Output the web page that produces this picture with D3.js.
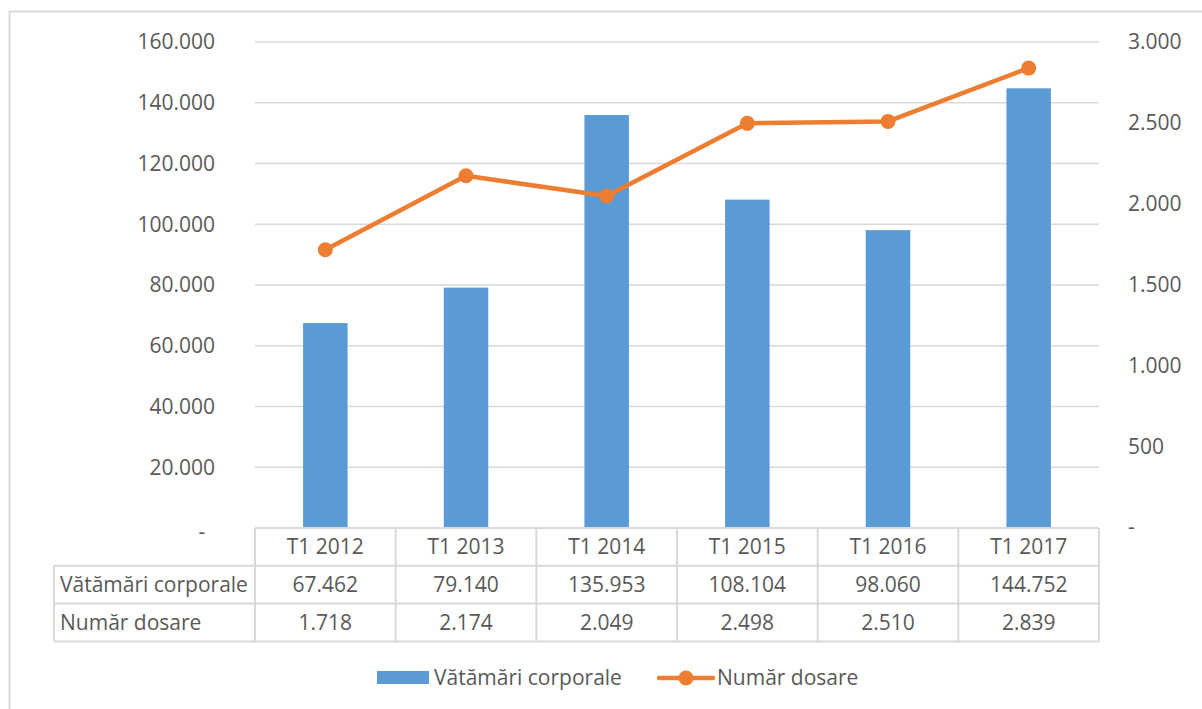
<!DOCTYPE html>
<html>
<head>
<meta charset="utf-8">
<script src="https://cdn.jsdelivr.net/npm/d3@7"></script>
<style>
  body { margin: 0; background: #fff; }
  text { font-family: "Open Sans", sans-serif; fill: #595959; }
</style>
</head>
<body>
<svg id="chart" width="1202" height="709"></svg>
<script>
var categories = ["T1 2012", "T1 2013", "T1 2014", "T1 2015", "T1 2016", "T1 2017"];
var vatamari = [67462, 79140, 135953, 108104, 98060, 144752];
var dosare = [1718, 2174, 2049, 2498, 2510, 2839];
var leftTicks = [0, 20000, 40000, 60000, 80000, 100000, 120000, 140000, 160000];
var rightTicks = [0, 500, 1000, 1500, 2000, 2500, 3000];
var seriesNames = ["Vătămări corporale", "Număr dosare"];

var margin = { top: 42, left: 255, right: 1099, bottom: 528 },
    rowH = 37.8,
    labelX = 54,
    fontSize = 21;

var svg = d3.select("#chart");

// outer chart border
svg.append("rect")
    .attr("x", 9.5).attr("y", 11.5)
    .attr("width", 1300).attr("height", 800)
    .attr("fill", "none").attr("stroke", "#d9d9d9").attr("stroke-width", 2);

var x = d3.scaleBand()
    .domain(categories)
    .range([margin.left, margin.right]);

var yL = d3.scaleLinear().domain([0, 160000]).range([margin.bottom, margin.top]);
var yR = d3.scaleLinear().domain([0, 3000]).range([margin.bottom, margin.top]);

var fmt = v => v === 0 ? "-" : d3.format(",")(v).replace(/,/g, ".");

// gridlines
svg.append("g")
    .selectAll("line")
    .data(leftTicks.slice(1))
    .join("line")
    .attr("x1", margin.left).attr("x2", margin.right)
    .attr("y1", d => yL(d)).attr("y2", d => yL(d))
    .attr("stroke", "#d9d9d9").attr("stroke-width", 1.5);

// left axis labels
svg.append("g")
    .style("font-size", fontSize + "px")
    .selectAll("text")
    .data(leftTicks)
    .join("text")
    .attr("x", d => d === 0 ? 202 : 215)
    .attr("y", d => yL(d))
    .attr("dy", d => d === 0 ? "0.5em" : "0.35em")
    .attr("text-anchor", d => d === 0 ? "middle" : "end")
    .text(fmt);

// right axis labels
svg.append("g")
    .style("font-size", fontSize + "px")
    .selectAll("text")
    .data(rightTicks)
    .join("text")
    .attr("x", 1128)
    .attr("y", d => yR(d))
    .attr("dy", d => d === 0 ? "0.3em" : "0.35em")
    .text(fmt);

// bars
var barW = 44.5;
svg.append("g")
    .selectAll("rect")
    .data(vatamari)
    .join("rect")
    .attr("x", (d, i) => x(categories[i]) + x.bandwidth() / 2 - barW / 2)
    .attr("y", d => yL(d))
    .attr("width", barW)
    .attr("height", d => yL(0) - yL(d))
    .attr("fill", "#5b9bd5");

// line
var line = d3.line()
    .x((d, i) => x(categories[i]) + x.bandwidth() / 2)
    .y(d => yR(d));

svg.append("path")
    .datum(dosare)
    .attr("d", line)
    .attr("fill", "none")
    .attr("stroke", "#ed7d31")
    .attr("stroke-width", 4.5)
    .attr("stroke-linejoin", "round")
    .attr("stroke-linecap", "round");

svg.append("g")
    .selectAll("circle")
    .data(dosare)
    .join("circle")
    .attr("cx", (d, i) => x(categories[i]) + x.bandwidth() / 2)
    .attr("cy", d => yR(d))
    .attr("r", 7.5)
    .attr("fill", "#ed7d31");

// data table
var table = svg.append("g");
var t0 = margin.bottom,
    t1 = t0 + rowH,
    t2 = t1 + rowH,
    t3 = t2 + rowH;
var border = "#d9d9d9";

function hline(x1, x2, y) {
    table.append("line").attr("x1", x1).attr("x2", x2).attr("y1", y).attr("y2", y)
        .attr("stroke", border).attr("stroke-width", 2);
}
function vline(xx, y1, y2) {
    table.append("line").attr("x1", xx).attr("x2", xx).attr("y1", y1).attr("y2", y2)
        .attr("stroke", border).attr("stroke-width", 2);
}
hline(margin.left, margin.right, t0);
hline(labelX, margin.right, t1);
hline(labelX, margin.right, t2);
hline(labelX, margin.right, t3);
vline(labelX, t1, t3);
categories.forEach(c => vline(x(c), t0, t3));
vline(margin.right, t0, t3);

var tt = table.append("g").style("font-size", fontSize + "px").attr("text-anchor", "middle");
tt.selectAll(".cat")
    .data(categories)
    .join("text")
    .attr("x", d => x(d) + x.bandwidth() / 2)
    .attr("y", (t0 + t1) / 2)
    .attr("dy", "0.35em")
    .text(d => d);
tt.selectAll(".v1")
    .data(vatamari)
    .join("text")
    .attr("x", (d, i) => x(categories[i]) + x.bandwidth() / 2)
    .attr("y", (t1 + t2) / 2)
    .attr("dy", "0.35em")
    .text(fmt);
tt.selectAll(".v2")
    .data(dosare)
    .join("text")
    .attr("x", (d, i) => x(categories[i]) + x.bandwidth() / 2)
    .attr("y", (t2 + t3) / 2)
    .attr("dy", "0.35em")
    .text(fmt);
table.append("g").style("font-size", fontSize + "px")
    .selectAll("text")
    .data(seriesNames)
    .join("text")
    .attr("x", 60)
    .attr("y", (d, i) => i === 0 ? (t1 + t2) / 2 : (t2 + t3) / 2)
    .attr("dy", "0.35em")
    .text(d => d);

// legend
var legend = svg.append("g").style("font-size", fontSize + "px");
legend.append("rect")
    .attr("x", 377).attr("y", 671).attr("width", 52).attr("height", 13)
    .attr("fill", "#5b9bd5");
legend.append("text")
    .attr("x", 434).attr("y", 678).attr("dy", "0.35em")
    .text(seriesNames[0]);
legend.append("line")
    .attr("x1", 659).attr("x2", 713).attr("y1", 678).attr("y2", 678)
    .attr("stroke", "#ed7d31").attr("stroke-width", 4.5).attr("stroke-linecap", "round");
legend.append("circle")
    .attr("cx", 686).attr("cy", 678).attr("r", 7.5).attr("fill", "#ed7d31");
legend.append("text")
    .attr("x", 717).attr("y", 678).attr("dy", "0.35em")
    .text(seriesNames[1]);
</script>
</body>
</html>
